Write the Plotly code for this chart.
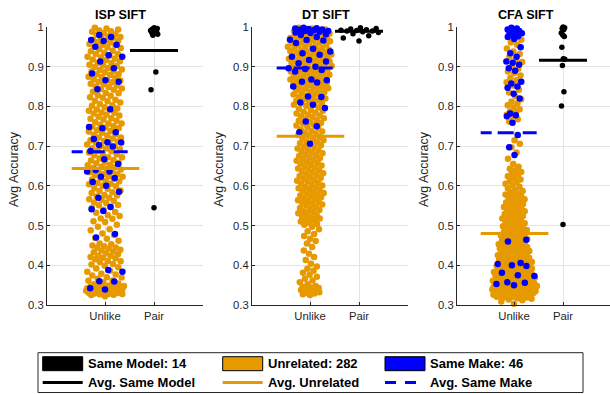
import numpy as np
import plotly.graph_objects as go

# ---------------- data ----------------
panel_titles = ["ISP SIFT", "DT SIFT", "CFA SIFT"]
x_categories = ["Unlike", "Pair"]
y_tick_values = [0.3, 0.4, 0.5, 0.6, 0.7, 0.8, 0.9, 1.0]
y_tick_labels = ["0.3", "0.4", "0.5", "0.6", "0.7", "0.8", "0.9", "1"]
legend_labels = ["Same Model: 14", "Unrelated: 282", "Same Make: 46",
                 "Avg. Same Model", "Avg. Unrelated", "Avg. Same Make"]

isp_unrelated = [
    0.322, 0.325, 0.326, 0.328, 0.328, 0.329, 0.331, 0.331, 0.332, 0.333, 0.333, 0.334, 0.335, 0.336,
    0.336, 0.337, 0.338, 0.338, 0.339, 0.340, 0.341, 0.341, 0.342, 0.343, 0.344, 0.344, 0.345, 0.346,
    0.347, 0.348, 0.349, 0.330, 0.335, 0.337, 0.339, 0.342, 0.327, 0.334, 0.340, 0.346,
    0.352, 0.354, 0.357, 0.361, 0.362, 0.366, 0.369, 0.370, 0.374, 0.377, 0.379, 0.384, 0.386, 0.392,
    0.395, 0.399,
    0.402, 0.403, 0.408, 0.410, 0.411, 0.415, 0.418, 0.419, 0.421, 0.424, 0.424, 0.428, 0.430, 0.433,
    0.435, 0.437, 0.439, 0.442, 0.444, 0.445, 0.448, 0.450,
    0.453, 0.455, 0.462, 0.467, 0.469, 0.476, 0.480, 0.488, 0.491, 0.497,
    0.502, 0.509, 0.511, 0.517, 0.518, 0.524, 0.526, 0.532, 0.534, 0.540, 0.544, 0.547,
    0.551, 0.552, 0.557, 0.558, 0.562, 0.565, 0.566, 0.570, 0.573, 0.576, 0.577, 0.582, 0.584, 0.587,
    0.588, 0.593, 0.594, 0.599,
    0.600, 0.604, 0.605, 0.607, 0.611, 0.612, 0.616, 0.618, 0.619, 0.623, 0.624, 0.627, 0.629, 0.630,
    0.634, 0.636, 0.637, 0.641, 0.643, 0.645, 0.647, 0.648,
    0.652, 0.653, 0.657, 0.658, 0.660, 0.664, 0.665, 0.669, 0.672, 0.672, 0.677, 0.679, 0.680, 0.684,
    0.687, 0.688, 0.692, 0.694, 0.695, 0.699,
    0.700, 0.704, 0.705, 0.709, 0.712, 0.713, 0.715, 0.719, 0.722, 0.722, 0.727, 0.729, 0.730, 0.734,
    0.737, 0.738, 0.740, 0.745, 0.747, 0.749,
    0.750, 0.754, 0.757, 0.757, 0.760, 0.764, 0.767, 0.769, 0.770, 0.774, 0.777, 0.779, 0.782, 0.784,
    0.785, 0.789, 0.792, 0.792, 0.795, 0.798,
    0.802, 0.803, 0.806, 0.810, 0.813, 0.814, 0.817, 0.822, 0.823, 0.827, 0.828, 0.833, 0.834, 0.837,
    0.842, 0.844, 0.845, 0.849,
    0.850, 0.853, 0.856, 0.857, 0.861, 0.862, 0.865, 0.866, 0.868, 0.872, 0.874, 0.875, 0.879, 0.881,
    0.881, 0.886, 0.888, 0.889, 0.892, 0.893, 0.897, 0.899,
    0.902, 0.903, 0.905, 0.909, 0.910, 0.914, 0.917, 0.918, 0.920, 0.924, 0.925, 0.929, 0.932, 0.932,
    0.935, 0.939, 0.940, 0.944, 0.947, 0.949,
    0.950, 0.954, 0.955, 0.957, 0.961, 0.962, 0.965, 0.966, 0.968, 0.972, 0.974, 0.975, 0.977, 0.981,
    0.982, 0.984, 0.988, 0.989, 0.991, 0.994, 0.996, 0.998]
isp_same_make = [
    0.980, 0.975, 0.967, 0.965, 0.955, 0.950, 0.929, 0.925, 0.913, 0.896, 0.883, 0.866, 0.862, 0.843,
    0.793, 0.748, 0.745, 0.735, 0.718, 0.709, 0.703, 0.699, 0.688, 0.667, 0.655, 0.636, 0.636, 0.623,
    0.620, 0.610, 0.600, 0.585, 0.570, 0.547, 0.541, 0.537, 0.479, 0.470, 0.388, 0.384, 0.360, 0.359,
    0.342, 0.339, 0.710, 0.640]
isp_same_model = [0.998, 0.996, 0.995, 0.993, 0.991, 0.990, 0.988, 0.986, 0.984, 0.982, 0.979,
                  0.887, 0.842, 0.545]

dt_unrelated = [
    0.950, 0.953, 0.954, 0.956, 0.958, 0.959, 0.961, 0.962, 0.964, 0.966, 0.967, 0.969, 0.970, 0.972,
    0.973, 0.975, 0.976, 0.977, 0.979, 0.981, 0.982, 0.983, 0.985, 0.986, 0.988, 0.989, 0.990, 0.992,
    0.993, 0.994, 0.996, 0.998,
    0.901, 0.902, 0.904, 0.905, 0.906, 0.909, 0.909, 0.910, 0.912, 0.914, 0.915, 0.916, 0.918, 0.919,
    0.920, 0.922, 0.923, 0.924, 0.926, 0.927, 0.929, 0.930, 0.931, 0.933, 0.935, 0.935, 0.937, 0.939,
    0.940, 0.941, 0.943, 0.944, 0.945, 0.947, 0.949,
    0.851, 0.853, 0.854, 0.856, 0.858, 0.859, 0.861, 0.863, 0.864, 0.865, 0.868, 0.869, 0.870, 0.872,
    0.874, 0.875, 0.877, 0.878, 0.880, 0.882, 0.883, 0.885, 0.886, 0.888, 0.890, 0.891, 0.893, 0.894,
    0.896, 0.898,
    0.801, 0.804, 0.805, 0.808, 0.809, 0.812, 0.814, 0.815, 0.818, 0.820, 0.821, 0.824, 0.826, 0.827,
    0.830, 0.831, 0.834, 0.836, 0.837, 0.840, 0.842, 0.843, 0.846, 0.847, 0.849,
    0.752, 0.754, 0.757, 0.758, 0.761, 0.764, 0.765, 0.768, 0.770, 0.773, 0.775, 0.777, 0.779, 0.782,
    0.784, 0.786, 0.789, 0.791, 0.794, 0.797,
    0.702, 0.704, 0.707, 0.710, 0.712, 0.715, 0.718, 0.720, 0.723, 0.726, 0.728, 0.731, 0.734, 0.737,
    0.739, 0.742, 0.745, 0.748,
    0.651, 0.653, 0.656, 0.658, 0.660, 0.663, 0.665, 0.668, 0.670, 0.672, 0.675, 0.677, 0.679, 0.682,
    0.684, 0.687, 0.689, 0.691, 0.694, 0.696, 0.699,
    0.601, 0.603, 0.606, 0.608, 0.611, 0.613, 0.615, 0.618, 0.620, 0.622, 0.625, 0.627, 0.629, 0.632,
    0.634, 0.637, 0.639, 0.641, 0.644, 0.646, 0.648,
    0.551, 0.553, 0.555, 0.558, 0.560, 0.562, 0.564, 0.567, 0.569, 0.571, 0.573, 0.576, 0.578, 0.580,
    0.582, 0.585, 0.587, 0.589, 0.591, 0.594, 0.596, 0.598,
    0.502, 0.504, 0.507, 0.510, 0.512, 0.515, 0.518, 0.520, 0.523, 0.526, 0.528, 0.531, 0.534, 0.536,
    0.539, 0.542, 0.544, 0.547,
    0.455, 0.461, 0.467, 0.474, 0.479, 0.486, 0.491, 0.497,
    0.404, 0.413, 0.421, 0.429, 0.437, 0.446,
    0.352, 0.357, 0.362, 0.366, 0.371, 0.376, 0.381, 0.386, 0.391, 0.397,
    0.325, 0.327, 0.329, 0.330, 0.332, 0.333, 0.334, 0.336, 0.337, 0.338, 0.340, 0.341, 0.343, 0.344,
    0.346, 0.348]
dt_same_make = [
    0.998, 0.997, 0.996, 0.995, 0.994, 0.993, 0.992, 0.990, 0.990, 0.988, 0.986, 0.985, 0.982, 0.980,
    0.975, 0.968, 0.967, 0.966, 0.960, 0.945, 0.938, 0.934, 0.930, 0.925, 0.917, 0.913, 0.909, 0.900,
    0.896, 0.894, 0.892, 0.888, 0.868, 0.866, 0.862, 0.860, 0.850, 0.825, 0.824, 0.810, 0.804, 0.796,
    0.762, 0.750, 0.735, 0.706]
dt_same_model = [0.998, 0.996, 0.995, 0.993, 0.992, 0.991, 0.990, 0.990, 0.988, 0.986, 0.983,
                 0.978, 0.972, 0.965]

cfa_unrelated = [
    0.303, 0.309, 0.312, 0.314, 0.316, 0.318, 0.319, 0.320, 0.321, 0.322, 0.323, 0.324, 0.325, 0.325,
    0.326, 0.327, 0.327, 0.328, 0.329, 0.329, 0.330, 0.330, 0.331, 0.331, 0.332, 0.332, 0.333, 0.333,
    0.334, 0.334, 0.335, 0.335, 0.336, 0.336, 0.337, 0.337, 0.338, 0.338, 0.339, 0.339, 0.340, 0.340,
    0.341, 0.341, 0.342, 0.342, 0.343, 0.343, 0.344, 0.344, 0.345, 0.345, 0.346, 0.346, 0.347, 0.347,
    0.348, 0.348, 0.349, 0.349, 0.317, 0.321, 0.324, 0.328, 0.332, 0.336, 0.339, 0.343, 0.326, 0.330,
    0.334, 0.338, 0.341, 0.345, 0.335,
    0.350, 0.351, 0.352, 0.353, 0.354, 0.355, 0.356, 0.358, 0.358, 0.359, 0.361, 0.361, 0.362, 0.364,
    0.364, 0.366, 0.367, 0.367, 0.369, 0.370, 0.371, 0.372, 0.373, 0.375, 0.375, 0.377, 0.378, 0.378,
    0.380, 0.381, 0.382, 0.383, 0.385, 0.385, 0.386, 0.388, 0.389, 0.390, 0.391, 0.392, 0.394, 0.395,
    0.396, 0.397, 0.398, 0.399,
    0.401, 0.402, 0.403, 0.405, 0.406, 0.407, 0.408, 0.410, 0.411, 0.412, 0.414, 0.415, 0.416, 0.418,
    0.419, 0.420, 0.421, 0.423, 0.424, 0.425, 0.427, 0.428, 0.429, 0.431, 0.432, 0.433, 0.434, 0.436,
    0.437, 0.438, 0.440, 0.441, 0.442, 0.443, 0.445, 0.446, 0.447, 0.448, 0.449,
    0.451, 0.453, 0.455, 0.456, 0.458, 0.460, 0.462, 0.463, 0.465, 0.466, 0.468, 0.470, 0.472, 0.473,
    0.475, 0.477, 0.478, 0.480, 0.482, 0.484, 0.485, 0.487, 0.489, 0.491, 0.493, 0.494, 0.496, 0.498,
    0.502, 0.504, 0.506, 0.509, 0.511, 0.513, 0.515, 0.518, 0.520, 0.522, 0.524, 0.527, 0.529, 0.531,
    0.533, 0.536, 0.538, 0.540, 0.542, 0.545, 0.547, 0.549,
    0.551, 0.554, 0.556, 0.558, 0.561, 0.563, 0.566, 0.568, 0.571, 0.573, 0.576, 0.578, 0.581, 0.584,
    0.587, 0.590, 0.594, 0.598,
    0.601, 0.605, 0.609, 0.612, 0.616, 0.620, 0.624, 0.627, 0.631, 0.635, 0.639, 0.643, 0.648,
    0.655, 0.668, 0.684, 0.697,
    0.706, 0.715,
    0.762, 0.768, 0.775, 0.779, 0.784, 0.788, 0.793, 0.797,
    0.803, 0.808, 0.812, 0.818, 0.826, 0.835, 0.842,
    0.853, 0.861, 0.866, 0.872, 0.878, 0.884, 0.888, 0.895,
    0.903, 0.912, 0.918, 0.925, 0.932, 0.938, 0.946,
    0.955, 0.961, 0.968, 0.975, 0.980]
cfa_same_make = [
    0.998, 0.996, 0.994, 0.992, 0.990, 0.988, 0.986, 0.984, 0.980, 0.977, 0.975, 0.970,
    0.949, 0.934, 0.925, 0.913, 0.910, 0.905, 0.896, 0.890, 0.862, 0.858, 0.850, 0.847, 0.832, 0.820,
    0.782, 0.778, 0.775, 0.759, 0.728, 0.697, 0.678,
    0.464, 0.460, 0.406, 0.403, 0.400, 0.398, 0.381, 0.375, 0.373, 0.357, 0.356, 0.353, 0.350]
cfa_same_model = [1.000, 0.998, 0.996, 0.993, 0.985, 0.980, 0.976, 0.949, 0.920, 0.919, 0.903,
                  0.837, 0.801, 0.503]

avg_same_model = [0.941, 0.989, 0.916]
avg_unrelated = [0.644, 0.725, 0.480]
avg_same_make = [0.686, 0.897, 0.734]

unrelated = [isp_unrelated, dt_unrelated, cfa_unrelated]
same_make = [isp_same_make, dt_same_make, cfa_same_make]
same_model = [isp_same_model, dt_same_model, cfa_same_model]

# ---------------- style / layout constants ----------------
W, H = 610, 394
ORANGE = "#E69A00"
BLUE = "#0000FF"
BLACK = "#000000"
AX = "#262626"
GRID = "#E3E3E3"
FONT = "Liberation Sans, Arial, Helvetica, sans-serif"

ax_left = [47, 252, 457]
ax_right = [203, 408, 610]
unlike_off = [58, 58, 57]
unit_px = 49.0
plot_top, plot_bottom = 27, 305
title_x = [120.5, 326, 526]

# jitter params per panel: (maxwidth, floor, power, bandwidth), pair width
jit_unlike = [(0.40, 0.78, 0.5, 0.04), (0.46, 0.30, 0.7, 0.03), (0.47, 0.30, 0.6, 0.03)]
jit_pair = [0.08, 0.42, 0.04]


def spread_offsets(vals, ref, width, floor, power, bw):
    v = np.asarray(vals, float)
    r = np.asarray(ref, float)

    def dens(x):
        return np.exp(-0.5 * ((x[:, None] - r[None, :]) / bw) ** 2).sum(1)

    grid = np.linspace(0.3, 1.0, 141)
    dmax = dens(grid).max()
    s = np.clip((dens(v) / dmax) ** power, floor, 1.0)
    order = np.argsort(v, kind="stable")
    u = np.empty(len(v))
    u[order] = 2 * ((np.arange(len(v)) * 0.6180339887 + 0.5) % 1.0) - 1
    return width * s * u


def pxx(p):
    return p / W


def pxy(p):
    return 1 - p / H


fig = go.Figure()
layout = dict(width=W, height=H, autosize=False, margin=dict(l=0, r=0, t=0, b=0, pad=0),
              paper_bgcolor="white", plot_bgcolor="white", showlegend=False,
              font=dict(family=FONT, color=AX))
annotations = []
shapes = []

for i in range(3):
    xs = "x" if i == 0 else f"x{i+1}"
    ys = "y" if i == 0 else f"y{i+1}"
    xmin = 1 - unlike_off[i] / unit_px
    xmax = xmin + (ax_right[i] - ax_left[i]) / unit_px
    xkey = "xaxis" if i == 0 else f"xaxis{i+1}"
    ykey = "yaxis" if i == 0 else f"yaxis{i+1}"
    layout[xkey] = dict(domain=[pxx(ax_left[i]), pxx(ax_right[i])], range=[xmin, xmax],
                        anchor=ys, tickvals=[1, 2], ticktext=x_categories,
                        showgrid=True, gridcolor=GRID, gridwidth=1, zeroline=False,
                        showline=True, linecolor=AX, linewidth=1, automargin=False,
                        ticks="inside", ticklen=3, tickcolor=AX,
                        tickfont=dict(family=FONT, size=11.3, color=AX))
    layout[ykey] = dict(domain=[pxy(plot_bottom), pxy(plot_top)], range=[0.3, 1.0],
                        anchor=xs, tickvals=y_tick_values, ticktext=y_tick_labels,
                        showgrid=True, gridcolor=GRID, gridwidth=1, zeroline=False,
                        showline=True, linecolor=AX, linewidth=1, automargin=False,
                        ticks="inside", ticklen=3, tickcolor=AX,
                        tickfont=dict(family=FONT, size=11.3, color=AX))

    unl_ref = list(unrelated[i]) + list(same_make[i])
    wdt, flo, pw, bw = jit_unlike[i]
    xo = 1 + spread_offsets(unrelated[i], unl_ref, wdt, flo, pw, bw)
    xb = 1 + spread_offsets(same_make[i], unl_ref, wdt, flo, pw, bw)
    xk = 2 + spread_offsets(same_model[i], same_model[i], jit_pair[i], 1.0, 1.0, 0.03)

    fig.add_trace(go.Scatter(x=xo, y=unrelated[i], mode="markers", xaxis=xs, yaxis=ys,
                             marker=dict(color=ORANGE, size=6.5, line=dict(width=0)),
                             cliponaxis=False))
    fig.add_trace(go.Scatter(x=xb, y=same_make[i], mode="markers", xaxis=xs, yaxis=ys,
                             marker=dict(color=BLUE, size=6.5, line=dict(width=0)),
                             cliponaxis=False))
    fig.add_trace(go.Scatter(x=xk, y=same_model[i], mode="markers", xaxis=xs, yaxis=ys,
                             marker=dict(color=BLACK, size=5.5, line=dict(width=0)),
                             cliponaxis=False))
    # average lines
    fig.add_trace(go.Scatter(x=[1 - 0.68, 1 + 0.70], y=[avg_unrelated[i]] * 2, mode="lines",
                             xaxis=xs, yaxis=ys, line=dict(color=ORANGE, width=3)))
    fig.add_trace(go.Scatter(x=[1 - 0.68, 1 + 0.47], y=[avg_same_make[i]] * 2, mode="lines",
                             xaxis=xs, yaxis=ys,
                             line=dict(color=BLUE, width=3, dash="11px,6px,16px,9px,14px")))
    fig.add_trace(go.Scatter(x=[2 - 0.49, 2 + 0.49], y=[avg_same_model[i]] * 2, mode="lines",
                             xaxis=xs, yaxis=ys, line=dict(color=BLACK, width=3)))

    annotations.append(dict(text="<b>" + panel_titles[i] + "</b>", x=pxx(title_x[i]), y=pxy(15.5),
                            xref="paper", yref="paper", xanchor="center", yanchor="middle",
                            showarrow=False, font=dict(family=FONT, size=12.6, color=BLACK)))
    annotations.append(dict(text="Avg Accuracy", x=pxx(ax_left[i] - 33), y=pxy(169),
                            xref="paper", yref="paper", xanchor="center", yanchor="middle",
                            textangle=-90, showarrow=False,
                            font=dict(family=FONT, size=12.4, color=AX)))

# ---------------- legend (drawn) ----------------
shapes.append(dict(type="rect", xref="paper", yref="paper", x0=pxx(38), x1=pxx(583),
                   y0=pxy(392.5), y1=pxy(352.7), line=dict(color=AX, width=1),
                   fillcolor="white", layer="below"))
leg_x = [42.7, 222.7, 385]
leg_cols = [BLACK, ORANGE, BLUE]
leg_text_x = [86, 266, 428]
row1, row2 = 363.7, 382.5
for k in range(3):
    shapes.append(dict(type="rect", xref="paper", yref="paper", x0=pxx(leg_x[k]),
                       x1=pxx(leg_x[k] + 40), y0=pxy(370.7), y1=pxy(356.7),
                       fillcolor=leg_cols[k], line=dict(color=BLACK, width=1)))
    shapes.append(dict(type="line", xref="paper", yref="paper", x0=pxx(leg_x[k]),
                       x1=pxx(leg_x[k] + 40), y0=pxy(row2), y1=pxy(row2),
                       line=dict(color=leg_cols[k], width=3,
                                 dash="11px,9px" if k == 2 else "solid")))
    annotations.append(dict(text="<b>" + legend_labels[k] + "</b>", x=pxx(leg_text_x[k]),
                            y=pxy(row1), xref="paper", yref="paper", xanchor="left",
                            yanchor="middle", showarrow=False,
                            font=dict(family=FONT, size=13, color=BLACK)))
    annotations.append(dict(text="<b>" + legend_labels[k + 3] + "</b>", x=pxx(leg_text_x[k]),
                            y=pxy(row2), xref="paper", yref="paper", xanchor="left",
                            yanchor="middle", showarrow=False,
                            font=dict(family=FONT, size=13, color=BLACK)))

layout["annotations"] = annotations
layout["shapes"] = shapes
fig.update_layout(**layout)
fig.write_html("out.html", config={"displayModeBar": False},
               post_script="document.body.style.margin='0';document.body.style.padding='0';")
